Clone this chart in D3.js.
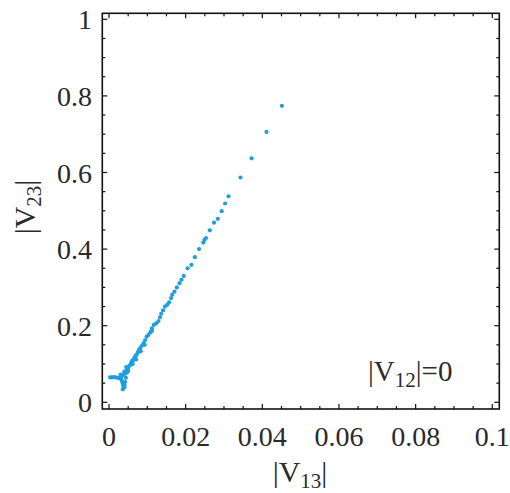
<!DOCTYPE html>
<html>
<head>
<meta charset="utf-8">
<script src="https://cdn.jsdelivr.net/npm/d3@7"></script>
<style>
html,body{margin:0;padding:0;background:#fff;}
svg text{font-family:"Liberation Serif","DejaVu Serif",serif;fill:#2a2a2a;}
</style>
</head>
<body>
<svg id="chart" width="510" height="493"></svg>
<script>
// Data
const v13 = [0.0003,0.0008,0.0013,0.0018,0.0023,0.0028,0.0032,0.0034,0.0036,0.0037,0.0038,0.0036,0.0040,0.0042,0.0033,0.0038,0.0043,0.0040,0.0046,0.0049,0.0045,0.0052,0.0055,0.0058,0.0060,0.0063,0.0066,0.0069,0.0072,0.0075,0.0078,0.0081,0.0085,0.0090,0.0094,0.0098,0.0103,0.0108,0.0112,0.0117,0.0123,0.0129,0.0133,0.0136,0.0141,0.0146,0.0152,0.0157,0.0162,0.0165,0.0171,0.0177,0.0184,0.0189,0.0195,0.0205,0.0215,0.0224,0.0235,0.0246,0.0249,0.0253,0.0263,0.0274,0.0284,0.0294,0.0303,0.0312,0.0343,0.0372,0.0411,0.0451,0.0041,0.0047,0.0030,0.0044,0.0050,0.0062,0.0071,0.0083,0.0093,0.0112];
const v23 = [0.065,0.065,0.066,0.065,0.064,0.063,0.060,0.055,0.050,0.044,0.038,0.034,0.047,0.053,0.068,0.072,0.075,0.080,0.084,0.088,0.092,0.094,0.097,0.103,0.108,0.110,0.116,0.121,0.124,0.130,0.136,0.141,0.147,0.154,0.162,0.171,0.176,0.183,0.193,0.202,0.206,0.212,0.222,0.231,0.240,0.250,0.255,0.261,0.272,0.281,0.289,0.300,0.311,0.320,0.330,0.350,0.359,0.379,0.400,0.417,0.424,0.429,0.449,0.469,0.479,0.499,0.519,0.538,0.587,0.637,0.706,0.774,0.040,0.078,0.072,0.064,0.082,0.100,0.112,0.133,0.150,0.186];
const xTickValues = [0, 0.02, 0.04, 0.06, 0.08, 0.1];
const xTickLabels = ["0", "0.02", "0.04", "0.06", "0.08", "0.1"];
const yTickValues = [0, 0.2, 0.4, 0.6, 0.8, 1];
const yTickLabels = ["0", "0.2", "0.4", "0.6", "0.8", "1"];
const annotation = {base: "|V", sub: "12", tail: "|=0"};

const svg = d3.select("#chart");
const frame = {left: 102.3, right: 499.3, top: 13.3, bottom: 409};

const x = d3.scaleLinear().domain([0, 0.1]).range([109, 492.3]);
const y = d3.scaleLinear().domain([0, 1]).range([402.3, 19.3]);

// frame
svg.append("rect")
  .attr("x", frame.left).attr("y", frame.top)
  .attr("width", frame.right - frame.left).attr("height", frame.bottom - frame.top)
  .attr("fill", "none").attr("stroke", "#111").attr("stroke-width", 1.6);

// ticks
const xMinor = d3.range(0, 21).map(i => i * 0.005);
const yMinor = d3.range(0, 21).map(i => i * 0.05);
const gT = svg.append("g").attr("stroke", "#111").attr("stroke-width", 1.2);
xMinor.forEach((v, i) => {
  const len = i % 4 === 0 ? 5 : 3;
  gT.append("line").attr("x1", x(v)).attr("x2", x(v)).attr("y1", frame.bottom).attr("y2", frame.bottom - len);
  gT.append("line").attr("x1", x(v)).attr("x2", x(v)).attr("y1", frame.top).attr("y2", frame.top + len);
});
yMinor.forEach((v, i) => {
  const len = i % 4 === 0 ? 5 : 3;
  gT.append("line").attr("y1", y(v)).attr("y2", y(v)).attr("x1", frame.left).attr("x2", frame.left + len);
  gT.append("line").attr("y1", y(v)).attr("y2", y(v)).attr("x1", frame.right).attr("x2", frame.right - len);
});

// tick labels
svg.append("g").selectAll("text").data(xTickValues).join("text")
  .attr("x", d => x(d)).attr("y", 446)
  .attr("text-anchor", "middle").attr("font-size", 28)
  .text((d, i) => xTickLabels[i]);
svg.append("g").selectAll("text").data(yTickValues).join("text")
  .attr("x", 92).attr("y", d => y(d) + 10)
  .attr("text-anchor", "end").attr("font-size", 28)
  .text((d, i) => yTickLabels[i]);

// axis labels
const xl = svg.append("text").attr("x", 300).attr("y", 482).attr("text-anchor", "middle").attr("font-size", 30);
xl.append("tspan").text("|V");
xl.append("tspan").attr("font-size", 21).attr("dy", 6).text("13");
xl.append("tspan").attr("dy", -6).text("|");

const yl = svg.append("text").attr("transform", "translate(35,207) rotate(-90)").attr("text-anchor", "middle").attr("font-size", 30);
yl.append("tspan").text("|V");
yl.append("tspan").attr("font-size", 21).attr("dy", 6).text("23");
yl.append("tspan").attr("dy", -6).text("|");

// annotation
const an = svg.append("text").attr("x", 368).attr("y", 381).attr("font-size", 29);
an.append("tspan").text(annotation.base);
an.append("tspan").attr("font-size", 21).attr("dy", 6).text(annotation.sub);
an.append("tspan").attr("dy", -6).text(annotation.tail);

// points
svg.append("g").selectAll("circle").data(v13.map((d, i) => [d, v23[i]])).join("circle")
  .attr("cx", d => x(d[0])).attr("cy", d => y(d[1])).attr("r", 2.1)
  .attr("fill", "#1f9ee0");
</script>
</body>
</html>
